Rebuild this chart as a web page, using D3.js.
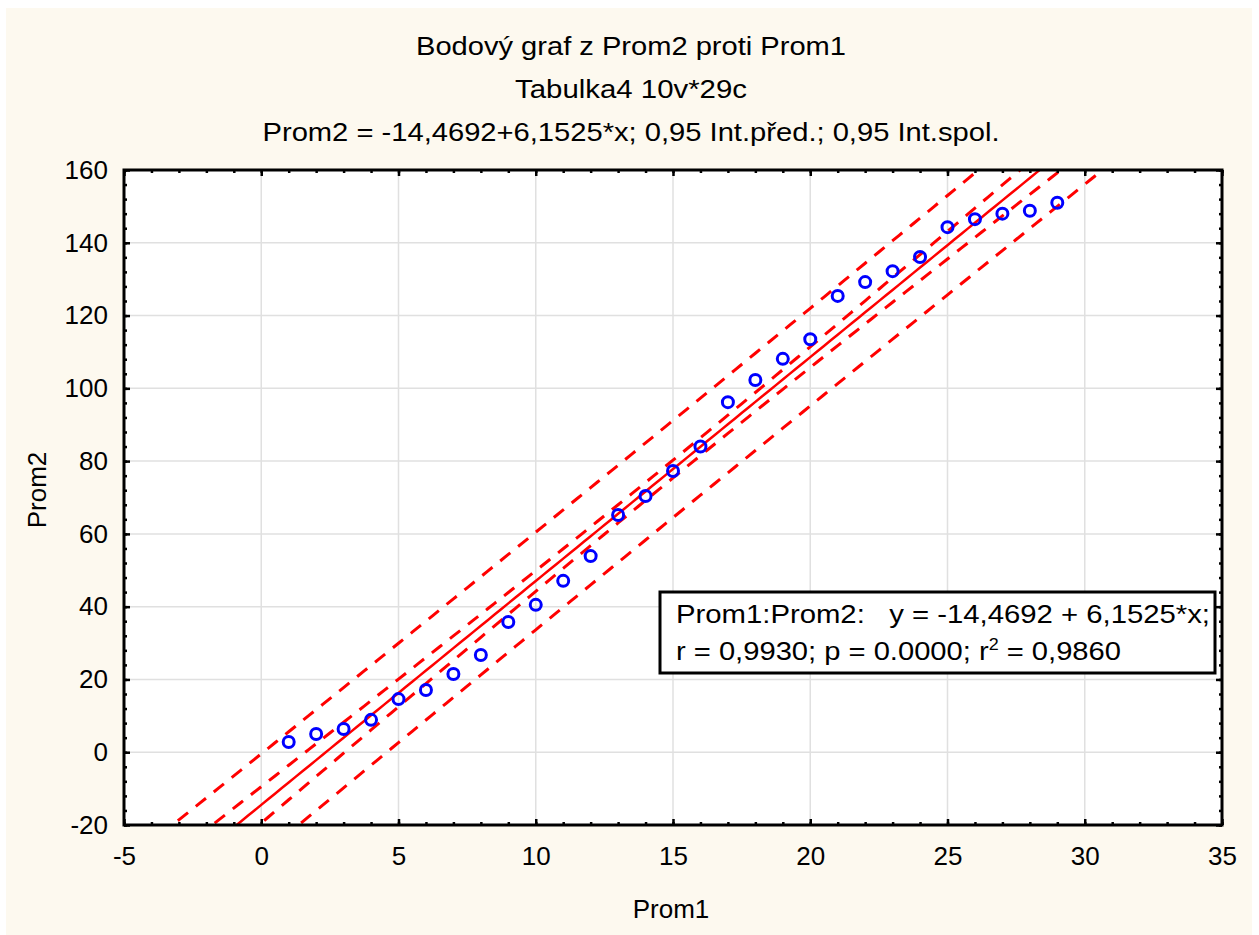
<!DOCTYPE html>
<html>
<head>
<meta charset="utf-8">
<script src="https://cdn.jsdelivr.net/npm/d3@7"></script>
<style>
    body { margin: 0; background: #ffffff; }
    svg { display: block; }
</style>
</head>
<body>
<div id="chart"></div>
<script>
// Data
const xValues = [1, 2, 3, 4, 5, 6, 7, 8, 9, 10, 11, 12, 13, 14, 15, 16, 17, 18, 19, 20,
                 21, 22, 23, 24, 25, 26, 27, 28, 29];
const yValues = [2.8, 5.0, 6.4, 8.9, 14.6, 17.1, 21.5, 26.7, 35.8, 40.5, 47.1, 53.9, 65.2, 70.4,
                 77.3, 84.0, 96.2, 102.3, 108.1, 113.5, 125.4, 129.2, 132.2, 136.1, 144.3, 146.5,
                 148.0, 148.8, 151.0];
const xTicks = [-5, 0, 5, 10, 15, 20, 25, 30, 35];
const yTicks = [-20, 0, 20, 40, 60, 80, 100, 120, 140, 160];

// Fit reported by the chart
const fitIntercept = -14.4692;
const fitSlope = 6.1525;
const tCrit = 2.0518; // t(0.975, 27)

const titleLines = [
    "Bodový graf z Prom2 proti Prom1",
    "Tabulka4 10v*29c",
    "Prom2 = -14,4692+6,1525*x; 0,95 Int.před.; 0,95 Int.spol."
];
const xLabel = "Prom1";
const yLabel = "Prom2";
const legendLine1 = "Prom1:Prom2:   y = -14,4692 + 6,1525*x;";
const legendLine2 = ["r = 0,9930; p = 0.0000; r", "2", " = 0,9860"];

const width = 1259, height = 935;
const plot = { left: 124, top: 170, right: 1222, bottom: 825 };
const FONT = "'Liberation Sans', Arial, sans-serif";

const svg = d3.select("#chart")
    .append("svg")
    .attr("width", width)
    .attr("height", height);

// Cream page background
svg.append("rect")
    .attr("x", 6).attr("y", 8)
    .attr("width", 1246).attr("height", height - 8)
    .style("fill", "#fdf9ef");

const x = d3.scaleLinear().domain([-5, 35]).range([plot.left, plot.right]);
const y = d3.scaleLinear().domain([-20, 160]).range([plot.bottom, plot.top]);

svg.append("rect")
    .attr("x", plot.left).attr("y", plot.top)
    .attr("width", plot.right - plot.left).attr("height", plot.bottom - plot.top)
    .style("fill", "#ffffff");

svg.append("clipPath").attr("id", "plot-clip")
    .append("rect")
    .attr("x", plot.left).attr("y", plot.top)
    .attr("width", plot.right - plot.left).attr("height", plot.bottom - plot.top);

// Grid lines
const grid = svg.append("g");
grid.selectAll("line.gx")
    .data(xTicks.slice(1, -1))
    .join("line")
    .attr("x1", d => x(d)).attr("x2", d => x(d))
    .attr("y1", plot.top).attr("y2", plot.bottom)
    .style("stroke", "#e0e0e0").style("stroke-width", 1.5);
grid.selectAll("line.gy")
    .data(yTicks.slice(1, -1))
    .join("line")
    .attr("x1", plot.left).attr("x2", plot.right)
    .attr("y1", d => y(d)).attr("y2", d => y(d))
    .style("stroke", "#e0e0e0").style("stroke-width", 1.5);

// Regression bands (computed from the points and the reported fit)
const n = xValues.length;
const xMean = d3.mean(xValues);
const sxx = d3.sum(xValues, v => (v - xMean) ** 2);
const sse = d3.sum(xValues, (v, i) => (yValues[i] - (fitIntercept + fitSlope * v)) ** 2);
const s = Math.sqrt(sse / (n - 2));
const xs = d3.range(-5, 35.001, 0.25);

const fit = v => fitIntercept + fitSlope * v;
const confHalf = v => tCrit * s * Math.sqrt(1 / n + (v - xMean) ** 2 / sxx);
const predHalf = v => tCrit * s * Math.sqrt(1 + 1 / n + (v - xMean) ** 2 / sxx);

const line = d3.line().x(d => x(d[0])).y(d => y(d[1]));
const curves = svg.append("g").attr("clip-path", "url(#plot-clip)");

[v => fit(v) + predHalf(v), v => fit(v) - predHalf(v),
 v => fit(v) + confHalf(v), v => fit(v) - confHalf(v)].forEach(f => {
    curves.append("path")
        .attr("d", line(xs.map(v => [v, f(v)])))
        .style("fill", "none")
        .style("stroke", "#ff0000")
        .style("stroke-width", 3)
        .style("stroke-dasharray", "13,10");
});

curves.append("path")
    .attr("d", line(xs.map(v => [v, fit(v)])))
    .style("fill", "none")
    .style("stroke", "#ff0000")
    .style("stroke-width", 2.5);

// Points
svg.append("g")
    .selectAll("circle")
    .data(xValues)
    .join("circle")
    .attr("cx", d => x(d))
    .attr("cy", (d, i) => y(yValues[i]))
    .attr("r", 5.5)
    .style("fill", "none")
    .style("stroke", "#0000ff")
    .style("stroke-width", 3);

// Axes: ticks point inward on all four sides
const xMinor = d3.range(-5, 36, 1);
const yMinor = d3.range(-20, 161, 4);
const plain = d => String(d); // keep ASCII hyphen for negatives

function styleAxis(g) {
    g.select(".domain").remove();
    g.selectAll("line").style("stroke", "#000").style("stroke-width", 2.5);
    g.selectAll("text").style("font-family", FONT).style("font-size", "26px").style("fill", "#000");
}

svg.append("g").attr("transform", `translate(0,${plot.bottom})`)
    .call(d3.axisBottom(x).tickValues(xMinor).tickSize(-3).tickFormat("")).call(styleAxis);
svg.append("g").attr("transform", `translate(0,${plot.bottom})`)
    .call(d3.axisBottom(x).tickValues(xTicks).tickSize(-6).tickPadding(22).tickFormat(plain)).call(styleAxis);
svg.append("g").attr("transform", `translate(0,${plot.top})`)
    .call(d3.axisTop(x).tickValues(xMinor).tickSize(-3).tickFormat("")).call(styleAxis);
svg.append("g").attr("transform", `translate(0,${plot.top})`)
    .call(d3.axisTop(x).tickValues(xTicks).tickSize(-6).tickFormat("")).call(styleAxis);

svg.append("g").attr("transform", `translate(${plot.left},0)`)
    .call(d3.axisLeft(y).tickValues(yMinor).tickSize(-3).tickFormat("")).call(styleAxis);
svg.append("g").attr("transform", `translate(${plot.left},0)`)
    .call(d3.axisLeft(y).tickValues(yTicks).tickSize(-6).tickPadding(16).tickFormat(plain)).call(styleAxis);
svg.append("g").attr("transform", `translate(${plot.right},0)`)
    .call(d3.axisRight(y).tickValues(yMinor).tickSize(-3).tickFormat("")).call(styleAxis);
svg.append("g").attr("transform", `translate(${plot.right},0)`)
    .call(d3.axisRight(y).tickValues(yTicks).tickSize(-6).tickFormat("")).call(styleAxis);

// Plot frame
svg.append("rect")
    .attr("x", plot.left).attr("y", plot.top)
    .attr("width", plot.right - plot.left).attr("height", plot.bottom - plot.top)
    .style("fill", "none")
    .style("stroke", "#000")
    .style("stroke-width", 3);

// Titles
const titleY = [55, 98, 141];
const titleW = [430, 232, 737];
titleLines.forEach((t, i) => {
    svg.append("text")
        .attr("x", 631).attr("y", titleY[i])
        .attr("text-anchor", "middle")
        .attr("textLength", titleW[i])
        .attr("lengthAdjust", "spacingAndGlyphs")
        .style("font-family", FONT)
        .style("font-size", "26px")
        .text(t);
});

// Axis titles
svg.append("text")
    .attr("x", 671).attr("y", 918)
    .attr("text-anchor", "middle")
    .style("font-family", FONT).style("font-size", "26px")
    .text(xLabel);
svg.append("text")
    .attr("transform", "translate(46,490) rotate(-90)")
    .attr("text-anchor", "middle")
    .style("font-family", FONT).style("font-size", "26px")
    .text(yLabel);

// Legend box
svg.append("rect")
    .attr("x", 660).attr("y", 592)
    .attr("width", 555).attr("height", 81)
    .style("fill", "#ffffff")
    .style("stroke", "#000")
    .style("stroke-width", 3);

svg.append("text")
    .attr("x", 676).attr("y", 623)
    .attr("textLength", 534)
    .attr("lengthAdjust", "spacingAndGlyphs")
    .style("font-family", FONT).style("font-size", "26px")
    .style("white-space", "pre")
    .text(legendLine1);

const l2 = svg.append("text")
    .attr("x", 676).attr("y", 660)
    .attr("textLength", 445)
    .attr("lengthAdjust", "spacingAndGlyphs")
    .style("font-family", FONT).style("font-size", "26px");
l2.append("tspan").text(legendLine2[0]);
l2.append("tspan").attr("dy", -10).style("font-size", "16px").text(legendLine2[1]);
l2.append("tspan").attr("dy", 10).text(legendLine2[2]);
</script>
</body>
</html>
